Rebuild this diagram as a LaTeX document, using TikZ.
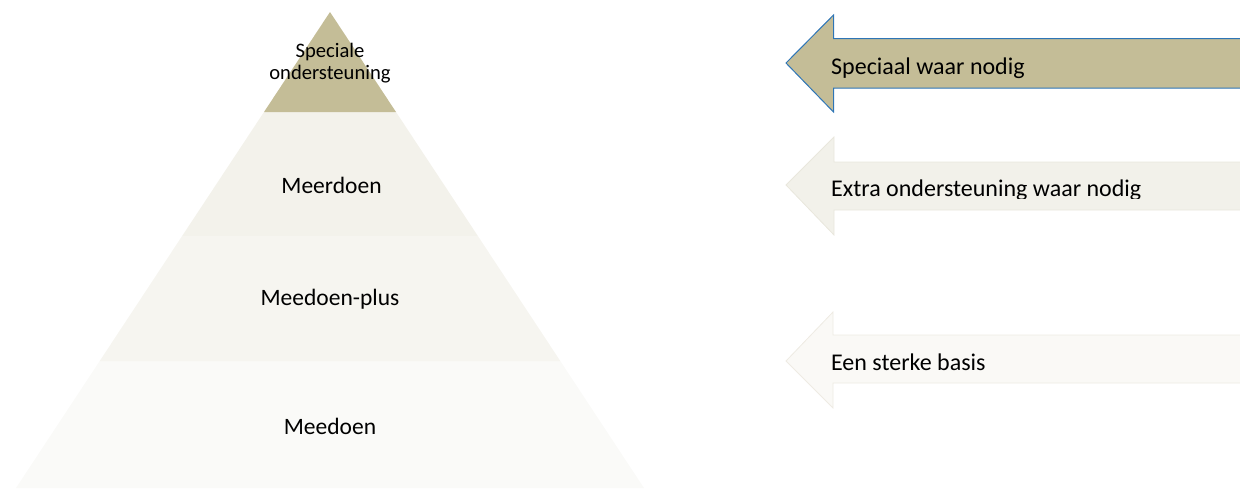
\documentclass[tikz,border=0pt]{standalone}
\usepackage{fontspec}
\setmainfont{Carlito}
\definecolor{tan}{HTML}{C4BD97}
\definecolor{bandA}{HTML}{F3F2EB}
\definecolor{bandB}{HTML}{F6F5F0}
\definecolor{bandC}{HTML}{FAFAF8}
\definecolor{arrB}{HTML}{F2F1EA}
\definecolor{arrBedge}{HTML}{E9E7DD}
\definecolor{arrC}{HTML}{FAF9F6}
\definecolor{arrCedge}{HTML}{EEEBE3}
\definecolor{blueedge}{HTML}{2E75B6}
\tikzset{
  lvl/.style={font=\fontsize{23.5}{28}\selectfont, inner sep=0pt, anchor=base, text=black},
  toplbl/.style={font=\fontsize{20.6}{22}\selectfont, inner sep=0pt, anchor=base, text=black},
  arrlbl/.style={font=\fontsize{24}{28}\selectfont, inner sep=0pt, anchor=base west, text=black},
}
\begin{document}
\begin{tikzpicture}[x=1pt,y=-1pt]
\useasboundingbox (0,0) rectangle (1240,488);
% pyramid bands (apex 330,12; slope 0.66)
\fill[bandC] (16,488) -- (644,488) -- (560.3,361) -- (99.7,361) -- cycle;
\fill[bandB] (99.7,361) -- (560.3,361) -- (478.2,236.5) -- (181.8,236.5) -- cycle;
\fill[bandA] (181.8,236.5) -- (478.2,236.5) -- (396,112) -- (264,112) -- cycle;
\fill[tan] (264,112) -- (396,112) -- (330,12) -- cycle;
% labels
\node[toplbl] (sp1) at (330,57) {Speciale};
\node[toplbl] (sp2) at (330,79) {ondersteuning};
\node[lvl] (meer) at (331.5,193) {Meerdoen};
\node[lvl] (plus) at (330,305) {Meedoen-plus};
\node[lvl] (mee) at (330,434) {Meedoen};
% arrows
\draw[fill=tan, draw=blueedge, line width=1pt]
  (1241,38.5) -- (833.5,38.5) -- (833.5,15) -- (786,63) -- (833.5,112) -- (833.5,88) -- (1241,88);
\draw[fill=arrB, draw=arrBedge, line width=0.8pt]
  (1241,162) -- (834,162) -- (834,137) -- (786,185) -- (834,235) -- (834,210) -- (1241,210);
\draw[fill=arrC, draw=arrCedge, line width=0.8pt]
  (1241,335) -- (833,335) -- (833,312) -- (786,361) -- (833,408) -- (833,383) -- (1241,383);
\node[arrlbl] (a1) at (831,74) {Speciaal waar nodig};
\begin{scope}
\clip (820,150) rectangle (1240,198);
\node[arrlbl] (a2) at (831,196) {Extra ondersteuning waar nodig};
\end{scope}
\node[arrlbl] (a3) at (831,370) {Een sterke basis};
\end{tikzpicture}
\end{document}
